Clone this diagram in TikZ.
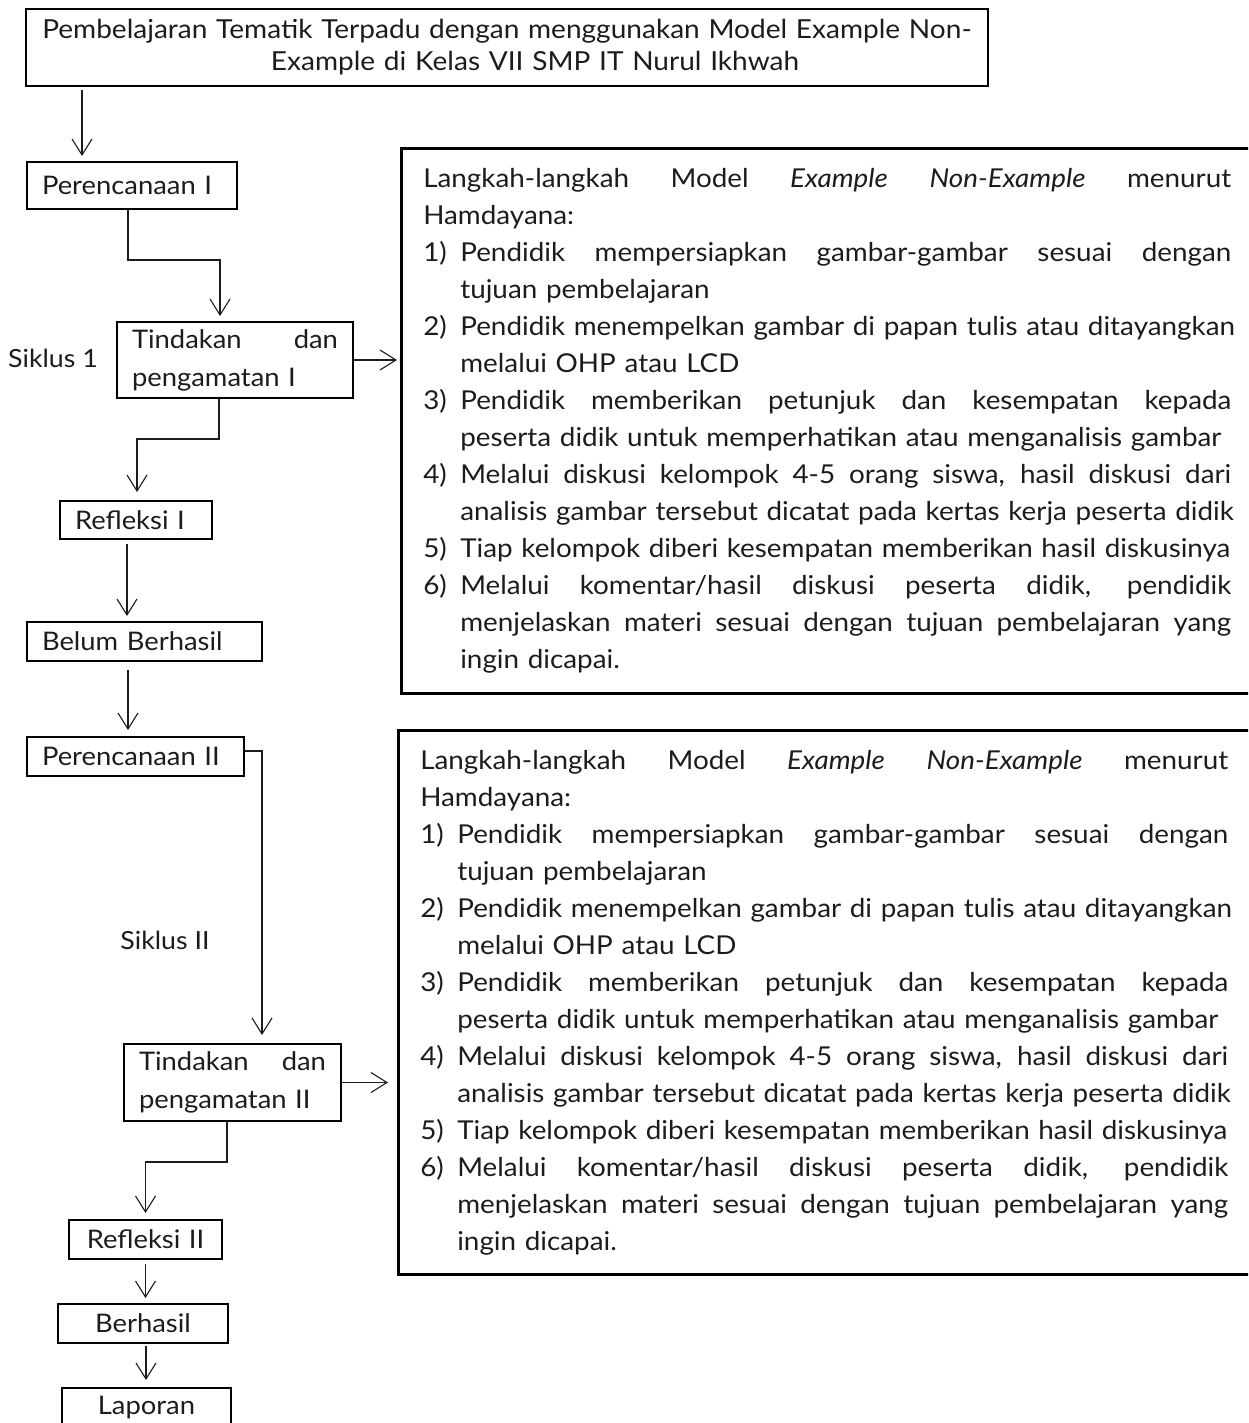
\documentclass[tikz,border=0pt]{standalone}
\usepackage{fontspec}
\setmainfont{Lato}[FakeStretch=1.07]
\usetikzlibrary{arrows.meta, calc}
\definecolor{inkblack}{RGB}{28,28,28}
\tikzset{
  flowbox/.style={draw=black, line width=1pt, rectangle, anchor=north west,
                  inner xsep=7.5pt, inner ysep=0pt, align=left,
                  font=\fontsize{12.8}{19}\selectfont, text=inkblack},
  stepbox/.style={draw=black, line width=1.3pt, rectangle, anchor=north west,
                  inner xsep=11pt, inner ysep=0pt, align=left, text width=404pt,
                  font=\fontsize{13}{18.5}\selectfont, text=inkblack},
  arr/.style={-{Straight Barb[length=8pt, width=10pt]}, line width=0.55pt, draw=inkblack},
}
% one numbered line and its continuation lines
\newcommand{\numline}[2]{\makebox[18.5pt][l]{#1}\mbox{#2}}
\newcommand{\contline}[1]{\hspace*{18.5pt}\mbox{#1}}
\newcommand{\jline}[2]{\makebox[#1][s]{\spaceskip=.3333em plus 1fill\relax #2}}
\newcommand{\langkahtext}{%
  \jline{404pt}{Langkah-langkah Model \textit{Example} \textit{Non-Example} menurut}\\
  Hamdayana:\\
  \numline{1)}{\jline{385.5pt}{Pendidik mempersiapkan gambar-gambar sesuai dengan}}\\
  \contline{tujuan pembelajaran}\\
  \numline{2)}{\jline{385.5pt}{Pendidik menempelkan gambar di papan tulis atau ditayangkan}}\\
  \contline{melalui OHP atau LCD}\\
  \numline{3)}{\jline{385.5pt}{Pendidik memberikan petunjuk dan kesempatan kepada}}\\
  \contline{peserta didik untuk memperhatikan atau menganalisis gambar}\\
  \numline{4)}{\jline{385.5pt}{Melalui diskusi kelompok 4-5 orang siswa, hasil diskusi dari}}\\
  \contline{analisis gambar tersebut dicatat pada kertas kerja peserta didik}\\
  \numline{5)}{Tiap kelompok diberi kesempatan memberikan hasil diskusinya}\\
  \numline{6)}{\jline{385.5pt}{Melalui komentar/hasil diskusi peserta didik, pendidik}}\\
  \contline{\jline{385.5pt}{menjelaskan materi sesuai dengan tujuan pembelajaran yang}}\\
  \contline{ingin dicapai.}}

\begin{document}
\begin{tikzpicture}[x=0.5pt, y=-0.5pt,
      every node/.style={text=inkblack},
      lbl/.style={font=\fontsize{12.5}{14}\selectfont},
    ]
    \clip (0,0) rectangle (1248,1423);

    % ─── Judul ─────────────────────────────────────────────────────────
    \node[flowbox, align=center, text width=466pt, minimum height=38.5pt, font=\fontsize{13.1}{16}\selectfont]
      (judul) at (25,8) {\mbox{Pembelajaran Tematik Terpadu dengan menggunakan Model Example Non-}\\
                         \hspace*{28pt}\mbox{Example di Kelas VII SMP IT Nurul Ikhwah}};

    % ─── Siklus 1 ──────────────────────────────────────────────────────
    \node[flowbox, text width=90pt, minimum height=23.5pt] (renc1) at (26,161) {Perencanaan I};
    \node[flowbox, text width=103pt, minimum height=38pt] (tind1) at (116,321)
      {Tindakan\hfill dan\\pengamatan I};
    \node[flowbox, text width=61pt, minimum height=19pt] (refl1) at (59,500) {Refleksi I};
    \node[flowbox, text width=102.5pt, minimum height=19.5pt] (belum) at (26,621) {Belum Berhasil};
    \node[lbl] (siklus1) at (53,358) {Siklus 1};

    % ─── Siklus II ─────────────────────────────────────────────────────
    \node[flowbox, text width=93.5pt, minimum height=19.5pt] (renc2) at (26,736) {Perencanaan II};
    \node[flowbox, text width=93.5pt, minimum height=38.5pt] (tind2) at (123,1043)
      {Tindakan\hfill dan\\pengamatan II};
    \node[flowbox, align=center, text width=61.5pt, minimum height=19.5pt] (refl2) at (68,1219) {Refleksi II};
    \node[flowbox, align=center, text width=70pt, minimum height=19.5pt] (berhasil) at (57,1303) {Berhasil};
    \node[flowbox, align=center, text width=69.5pt, minimum height=19.5pt] (laporan) at (61,1387) {Laporan};
    \node[lbl] (siklus2) at (165,940) {Siklus II};

    % ─── Langkah-langkah (kanan) ───────────────────────────────────────
    \node[stepbox, minimum height=272.5pt] (steps1) at (400,147) {\langkahtext};
    \node[stepbox, minimum height=272pt] (steps2) at (397,729) {\langkahtext};

    % ─── Panah ─────────────────────────────────────────────────────────
    \draw[arr] ($(judul.south west)+(57,3)$) -- ($(renc1.north west)+(56,-5)$);
    \draw[arr] ($(renc1.south west)+(102,0)$) -- ++(0,50) -| ($(tind1.north west)+(104,-5)$);
    \draw[arr] (tind1.east) -- ($(tind1.east -| steps1.west)+(-3,0)$);
    \draw[arr] ($(tind1.south west)+(103,0)$) -- ++(0,40) -| ($(refl1.north west)+(78,-8)$);
    \draw[arr] ($(refl1.south west)+(68,4)$) -- ($(belum.north west)+(101,-5)$);
    \draw[arr] ($(belum.south west)+(102,8)$) -- ($(renc2.north west)+(102,-6)$);
    \draw[arr] ($(renc2.north east)+(0,15)$) -| ($(tind2.north west)+(139,-8)$);
    \draw[arr] (tind2.east) -- ($(tind2.east -| steps2.west)+(-9,0)$);
    \draw[arr] ($(tind2.south west)+(104,0)$) -- ++(0,40) -| ($(refl2.north)+(0,-6)$);
    \draw[arr] ($(refl2.south)+(0,4)$) -- ($(refl2.south |- berhasil.north)+(0,-5)$);
    \draw[arr] ($(berhasil.south)+(3,2)$) -- ($(berhasil.south |- laporan.north)+(3,-7)$);

  \end{tikzpicture}
\end{document}
